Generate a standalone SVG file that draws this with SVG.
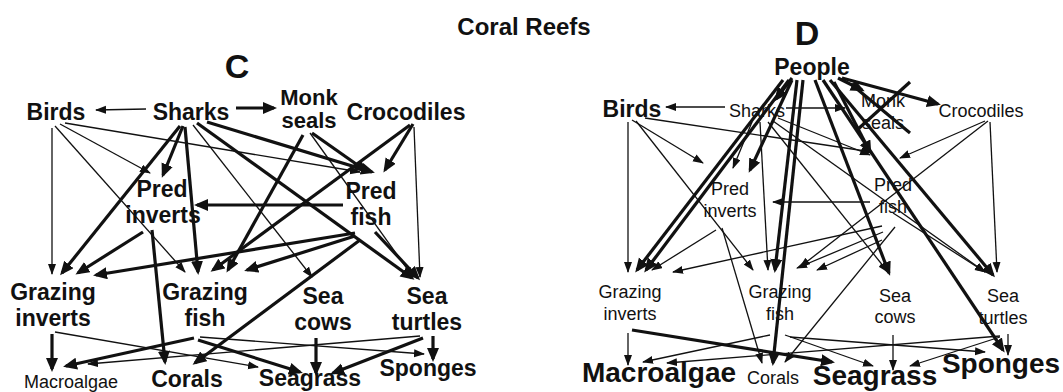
<svg xmlns="http://www.w3.org/2000/svg" width="1063" height="392" viewBox="0 0 1063 392">
<style>
text{font-family:"Liberation Sans",Arial,sans-serif;fill:#111;text-anchor:middle}
.cb{font-size:23px;font-weight:bold}
.dr{font-size:18px}
.db{font-size:23px;font-weight:bold}
.dB{font-size:28px;font-weight:bold}
.t{stroke:#111;stroke-width:1.3;fill:none;marker-end:url(#a)}
.k{stroke:#111;stroke-width:3.2;fill:none;marker-end:url(#b)}
.n{stroke:#111;stroke-width:3.2;fill:none}
</style>
<defs>
<marker id="a" markerUnits="userSpaceOnUse" markerWidth="12" markerHeight="10" refX="10" refY="4" orient="auto"><path d="M0,0 L11,4 L0,8 z" fill="#111"/></marker>
<marker id="b" markerUnits="userSpaceOnUse" markerWidth="16" markerHeight="14" refX="11" refY="6" orient="auto"><path d="M0,0 L14,6 L0,12 z" fill="#111"/></marker>
</defs>
<rect width="1063" height="392" fill="#fff"/>
<text x="524" y="35" style="font-size:24px;font-weight:bold">Coral Reefs</text>
<text x="237" y="78" style="font-size:34px;font-weight:bold">C</text>
<text x="807" y="45" style="font-size:34px;font-weight:bold">D</text>

<g id="edges-c">
<line class="t" x1="146" y1="109" x2="96" y2="110"/>
<line class="t" x1="52" y1="128" x2="52" y2="274"/>
<line class="t" x1="55" y1="126" x2="185" y2="272"/>
<line class="t" x1="60" y1="124" x2="150" y2="173"/>
<line class="t" x1="65" y1="123" x2="360" y2="172"/>
<line class="t" x1="193" y1="125" x2="312" y2="277"/>
<line class="t" x1="310" y1="133" x2="413" y2="277"/>
<line class="t" x1="414" y1="127" x2="420" y2="277"/>
<line class="t" x1="55" y1="332" x2="258" y2="367"/>
<line class="t" x1="200" y1="337" x2="424" y2="354"/>
<line class="t" x1="420" y1="336" x2="88" y2="364"/>
<line class="k" x1="236" y1="108" x2="274" y2="108"/>
<line class="k" x1="183" y1="126" x2="163" y2="175"/>
<line class="k" x1="180" y1="126" x2="62" y2="273"/>
<line class="k" x1="185" y1="127" x2="198" y2="272"/>
<line class="k" x1="207" y1="122" x2="372" y2="172"/>
<line class="k" x1="197" y1="123" x2="412" y2="278"/>
<line class="k" x1="303" y1="135" x2="228" y2="270"/>
<line class="k" x1="312" y1="133" x2="366" y2="171"/>
<line class="k" x1="413" y1="124" x2="385" y2="170"/>
<line class="k" x1="410" y1="125" x2="213" y2="270"/>
<line class="k" x1="343" y1="205" x2="197" y2="205"/>
<line class="k" x1="355" y1="233" x2="96" y2="275"/>
<line class="k" x1="355" y1="236" x2="247" y2="270"/>
<line class="k" x1="375" y1="232" x2="418" y2="278"/>
<line class="k" x1="360" y1="240" x2="195" y2="363"/>
<line class="k" x1="143" y1="232" x2="78" y2="273"/>
<line class="k" x1="152" y1="230" x2="165" y2="362"/>
<line class="k" x1="52" y1="334" x2="52" y2="369"/>
<line class="k" x1="194" y1="338" x2="66" y2="366"/>
<line class="k" x1="198" y1="340" x2="300" y2="372"/>
<line class="k" x1="316" y1="338" x2="316" y2="373"/>
<line class="k" x1="423" y1="338" x2="333" y2="373"/>
<line class="k" x1="433" y1="336" x2="433" y2="359"/>
</g>

<g id="edges-d">
<line class="t" x1="725" y1="107" x2="666" y2="107"/>
<line class="t" x1="786" y1="108" x2="845" y2="108"/>
<line class="t" x1="752" y1="122" x2="733" y2="168"/>
<line class="t" x1="760" y1="122" x2="768" y2="270"/>
<line class="t" x1="768" y1="122" x2="888" y2="272"/>
<line class="t" x1="773" y1="121" x2="985" y2="272"/>
<line class="t" x1="778" y1="118" x2="870" y2="155"/>
<line class="t" x1="628" y1="122" x2="628" y2="272"/>
<line class="t" x1="632" y1="120" x2="703" y2="163"/>
<line class="t" x1="636" y1="121" x2="753" y2="270"/>
<line class="t" x1="645" y1="118" x2="872" y2="152"/>
<line class="t" x1="985" y1="121" x2="900" y2="158"/>
<line class="t" x1="988" y1="121" x2="800" y2="267"/>
<line class="t" x1="990" y1="122" x2="997" y2="272"/>
<line class="t" x1="716" y1="230" x2="652" y2="270"/>
<line class="t" x1="722" y1="228" x2="762" y2="363"/>
<line class="t" x1="870" y1="202" x2="773" y2="202"/>
<line class="t" x1="882" y1="226" x2="673" y2="272"/>
<line class="t" x1="883" y1="232" x2="797" y2="268"/>
<line class="t" x1="882" y1="240" x2="817" y2="270"/>
<line class="t" x1="895" y1="227" x2="785" y2="362"/>
<line class="t" x1="893" y1="213" x2="985" y2="272"/>
<line class="t" x1="628" y1="333" x2="628" y2="365"/>
<line class="t" x1="770" y1="335" x2="643" y2="362"/>
<line class="t" x1="785" y1="335" x2="873" y2="366"/>
<line class="t" x1="790" y1="337" x2="985" y2="352"/>
<line class="t" x1="1000" y1="336" x2="667" y2="363"/>
<line class="t" x1="1000" y1="337" x2="910" y2="366"/>
<line class="t" x1="1008" y1="334" x2="1008" y2="355"/>
<line class="t" x1="893" y1="335" x2="893" y2="370"/>
<line class="k" x1="792" y1="78" x2="776" y2="99"/>
<line class="k" x1="783" y1="80" x2="637" y2="270"/>
<line class="k" x1="789" y1="80" x2="646" y2="270"/>
<line class="k" x1="792" y1="80" x2="750" y2="170"/>
<line class="k" x1="797" y1="80" x2="775" y2="270"/>
<line class="k" x1="803" y1="80" x2="773" y2="363"/>
<line class="k" x1="815" y1="80" x2="889" y2="273"/>
<line class="k" x1="823" y1="80" x2="1003" y2="350"/>
<line class="k" x1="830" y1="80" x2="993" y2="275"/>
<line class="k" x1="834" y1="82" x2="870" y2="152"/>
<line class="k" x1="838" y1="78" x2="862" y2="90"/>
<line class="k" x1="842" y1="78" x2="938" y2="104"/>
<line class="k" x1="632" y1="330" x2="832" y2="362"/>
<line class="n" x1="910" y1="82" x2="857" y2="130"/>
<line class="n" x1="851" y1="84" x2="910" y2="133"/>
</g>

<g id="c-birds"><text class="cb" x="56" y="120">Birds</text></g>
<g id="c-sharks"><text class="cb" x="191" y="120">Sharks</text></g>
<g id="c-monk-seals"><text class="cb" x="309" y="105" style="font-size:22px">Monk</text><text class="cb" x="309" y="128" style="font-size:22px">seals</text></g>
<g id="c-crocodiles"><text class="cb" x="406" y="120">Crocodiles</text></g>
<g id="c-pred-inverts"><text class="cb" x="162" y="197">Pred</text><text class="cb" x="163" y="223">inverts</text></g>
<g id="c-pred-fish"><text class="cb" x="371" y="199">Pred</text><text class="cb" x="371" y="225">fish</text></g>
<g id="c-grazing-inverts"><text class="cb" x="53" y="300">Grazing</text><text class="cb" x="53" y="326">inverts</text></g>
<g id="c-grazing-fish"><text class="cb" x="205" y="300">Grazing</text><text class="cb" x="205" y="326">fish</text></g>
<g id="c-sea-cows"><text class="cb" x="323" y="304">Sea</text><text class="cb" x="323" y="330">cows</text></g>
<g id="c-sea-turtles"><text class="cb" x="427" y="304">Sea</text><text class="cb" x="427" y="330">turtles</text></g>
<g id="c-macroalgae"><text x="71" y="388" style="font-size:18px">Macroalgae</text></g>
<g id="c-corals"><text class="cb" x="187" y="387">Corals</text></g>
<g id="c-seagrass"><text class="cb" x="310" y="386">Seagrass</text></g>
<g id="c-sponges"><text class="cb" x="428" y="376">Sponges</text></g>

<g id="d-people"><text class="db" x="812" y="75">People</text></g>
<g id="d-birds"><text class="db" x="632" y="117">Birds</text></g>
<g id="d-sharks"><text class="dr" x="757" y="117">Sharks</text></g>
<g id="d-monk-seals"><text class="dr" x="883" y="107">Monk</text><text class="dr" x="883" y="129">seals</text></g>
<g id="d-crocodiles"><text class="dr" x="981" y="117">Crocodiles</text></g>
<g id="d-pred-inverts"><text class="dr" x="730" y="195">Pred</text><text class="dr" x="730" y="217">inverts</text></g>
<g id="d-pred-fish"><text class="dr" x="893" y="191">Pred</text><text class="dr" x="893" y="213">fish</text></g>
<g id="d-grazing-inverts"><text class="dr" x="630" y="298">Grazing</text><text class="dr" x="630" y="320">inverts</text></g>
<g id="d-grazing-fish"><text class="dr" x="780" y="298">Grazing</text><text class="dr" x="780" y="320">fish</text></g>
<g id="d-sea-cows"><text class="dr" x="895" y="302">Sea</text><text class="dr" x="895" y="323">cows</text></g>
<g id="d-sea-turtles"><text class="dr" x="1003" y="302">Sea</text><text class="dr" x="1003" y="324">turtles</text></g>
<g id="d-macroalgae"><text class="dB" x="659" y="382">Macroalgae</text></g>
<g id="d-corals"><text class="dr" x="773" y="384">Corals</text></g>
<g id="d-seagrass"><text class="dB" x="875" y="385">Seagrass</text></g>
<g id="d-sponges"><text class="dB" x="1001" y="373">Sponges</text></g>
</svg>
